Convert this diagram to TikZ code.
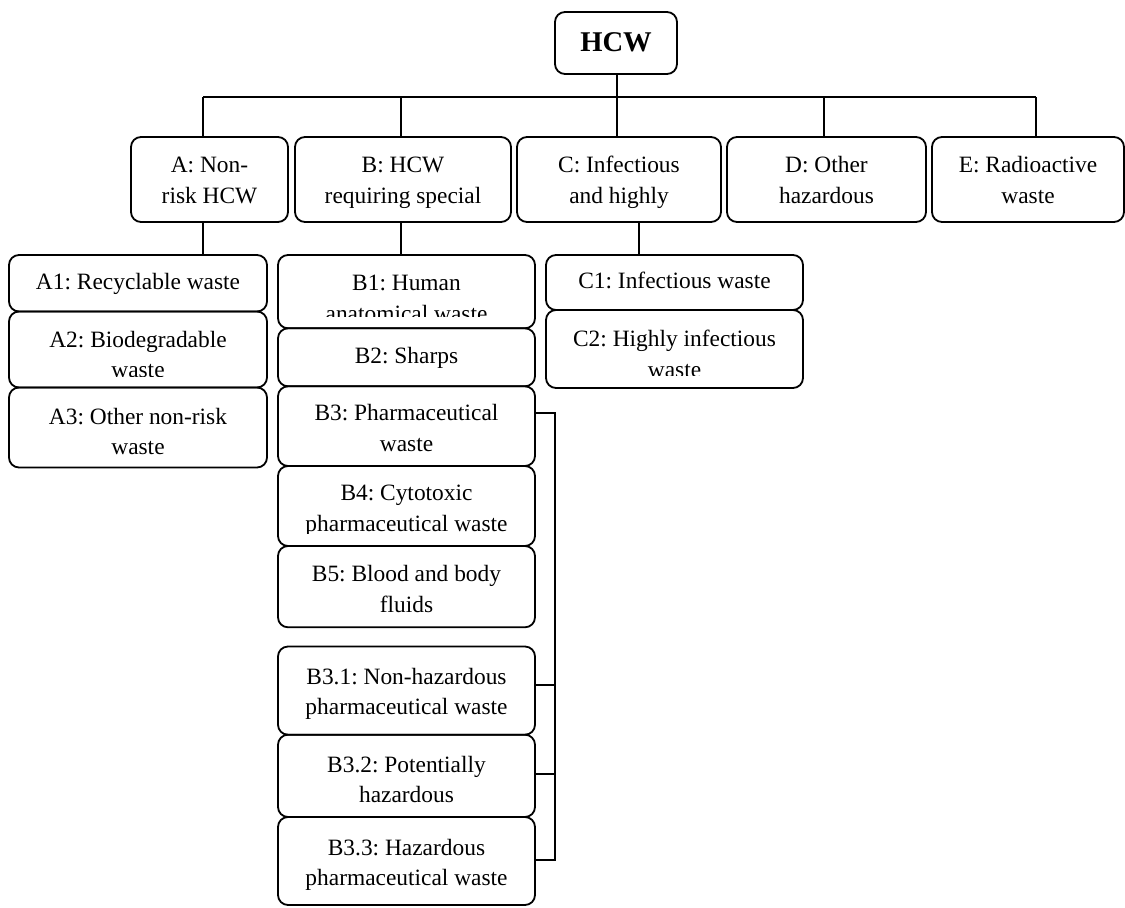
\documentclass[tikz,border=0pt]{standalone}
\usepackage{fontspec}
\setmainfont{Liberation Serif}
\usetikzlibrary{fit}
\frenchspacing
\newcommand\twoline[2]{\begin{tabular}[t]{@{}c@{}}#1\\#2\end{tabular}}
\tikzset{
  box/.style={draw, rounded corners=5pt, line width=0.9pt, inner sep=0pt},
  txt/.style={anchor=base, inner sep=0pt, font=\fontsize{11.7}{15.2}\selectfont},
  ttl/.style={anchor=base, inner sep=0pt, font=\fontsize{14.3}{17}\selectfont\bfseries},
  conn/.style={draw, line width=0.9pt}
}
\begin{document}
\begin{tikzpicture}[x=0.5pt, y=-0.5pt]
\useasboundingbox (0,0) rectangle (1125,907);

% ---- boxes ----
\node[box, fit={(555,12) (677,74)}] (HCW) {};
\node[box, fit={(131,137) (288,222)}] (A) {};
\node[box, fit={(295,137) (511,222)}] (B) {};
\node[box, fit={(517,137) (721,222)}] (C) {};
\node[box, fit={(727,137) (926,222)}] (D) {};
\node[box, fit={(932,137) (1124,222)}] (E) {};
\node[box, fit={(9,255) (267,311.5)}] (A1) {};
\node[box, fit={(9,311.5) (267,387.5)}] (A2) {};
\node[box, fit={(9,387.5) (267,467.5)}] (A3) {};
\node[box, fit={(278,255) (535,328.3)}] (B1) {};
\node[box, fit={(278,328.3) (535,386.3)}] (B2) {};
\node[box, fit={(278,386.3) (535,466)}] (B3) {};
\node[box, fit={(278,466) (535,546)}] (B4) {};
\node[box, fit={(278,546) (535,627.3)}] (B5) {};
\node[box, fit={(278,646.5) (535,734.7)}] (B31) {};
\node[box, fit={(278,734.7) (535,817)}] (B32) {};
\node[box, fit={(278,817) (535,905)}] (B33) {};
\node[box, fit={(546,255) (803,310)}] (C1) {};
\node[box, fit={(546,310) (803,388)}] (C2) {};

% ---- texts ----
\node[ttl] (tHCW) at (616,51.7) {HCW};
\node[txt] (tA) at (209.5,172.7) {\twoline{A: Non-}{risk HCW}};
\node[txt] (tB) at (403,172.7) {\twoline{B: HCW}{requiring special}};
\node[txt] (tC) at (619,172.7) {\twoline{C: Infectious}{and highly}};
\node[txt] (tD) at (826.5,172.7) {\twoline{D: Other}{hazardous}};
\node[txt] (tE) at (1028,172.7) {\twoline{E: Radioactive}{waste}};
\node[txt] (tA1) at (138,289.3) {A1: Recyclable waste};
\begin{scope}
  \clip (9,311.5) rectangle (267,376.7);
  \node[txt] (tA2) at (138,347.3) {\twoline{A2: Biodegradable}{waste}};
\end{scope}
\node[txt] (tA3) at (138,424.3) {\twoline{A3: Other non-risk}{waste}};
\begin{scope}
  \clip (278,255) rectangle (535,316.7);
  \node[txt] (tB1) at (406.5,290.7) {\twoline{B1: Human}{anatomical waste}};
\end{scope}
\node[txt] (tB2) at (406.5,363.3) {B2: Sharps};
\node[txt] (tB3) at (406.5,420.7) {\twoline{B3: Pharmaceutical}{waste}};
\begin{scope}
  \clip (278,466) rectangle (535,533.3);
  \node[txt] (tB4) at (406.5,500.7) {\twoline{B4: Cytotoxic}{pharmaceutical waste}};
\end{scope}
\node[txt] (tB5) at (406.5,581.7) {\twoline{B5: Blood and body}{fluids}};
\node[txt] (tB31) at (406.5,684.5) {\twoline{B3.1: Non-hazardous}{pharmaceutical waste}};
\node[txt] (tB32) at (406.5,772) {\twoline{B3.2: Potentially}{hazardous}};
\node[txt] (tB33) at (406.5,855.3) {\twoline{B3.3: Hazardous}{pharmaceutical waste}};
\node[txt] (tC1) at (674.5,288.3) {C1: Infectious waste};
\begin{scope}
  \clip (546,310) rectangle (803,375.7);
  \node[txt] (tC2) at (674.5,346.7) {\twoline{C2: Highly infectious}{waste}};
\end{scope}

% ---- connectors ----
\coordinate (bA) at (203,97);
\coordinate (bB) at (401,97);
\coordinate (bC) at (617,97);
\coordinate (bD) at (824,97);
\coordinate (bE) at (1036,97);
\coordinate (cC) at (639,240);
\draw[conn] (bC |- HCW.south) -- (bC);
\draw[conn] (bA) -- (bE);
\draw[conn] (bA) -- (bA |- A.north);
\draw[conn] (bB) -- (bB |- B.north);
\draw[conn] (bC) -- (bC |- C.north);
\draw[conn] (bD) -- (bD |- D.north);
\draw[conn] (bE) -- (bE |- E.north);
\draw[conn] (bA |- A.south) -- (bA |- A1.north);
\draw[conn] (bB |- B.south) -- (bB |- B1.north);
\draw[conn] (cC |- C.south) -- (cC |- C1.north);

\coordinate (r0) at (555,413);
\coordinate (r1) at (555,685.3);
\coordinate (r2) at (555,773.7);
\coordinate (r3) at (555,859.7);
\draw[conn] (r0 -| B3.east) -- (r0) -- (r3) -- (r3 -| B33.east);
\draw[conn] (r1) -- (r1 -| B31.east);
\draw[conn] (r2) -- (r2 -| B32.east);
\end{tikzpicture}
\end{document}
